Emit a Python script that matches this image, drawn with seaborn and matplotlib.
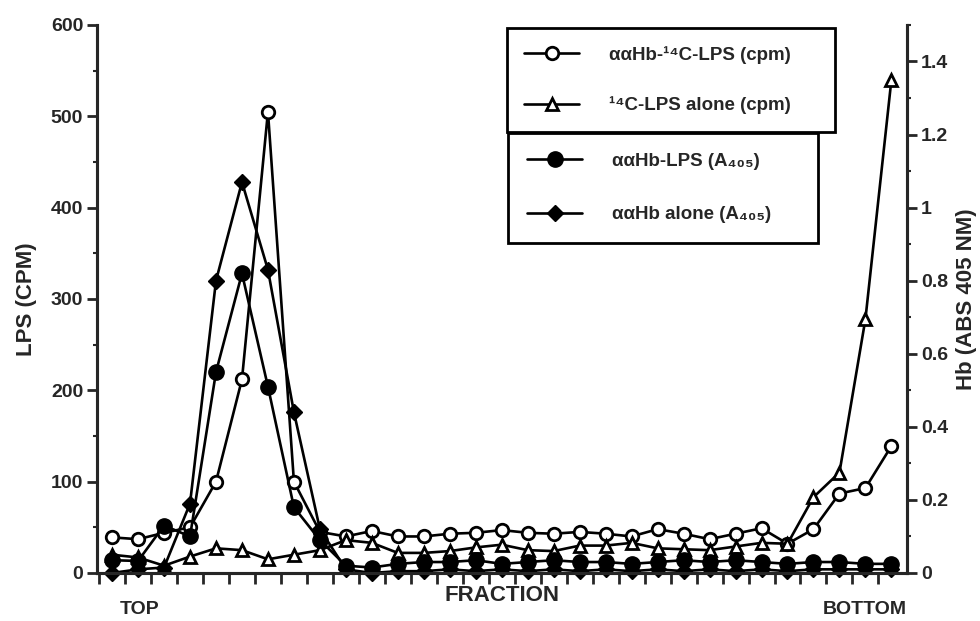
import numpy as np
import pandas as pd
import seaborn as sns
import matplotlib.pyplot as plt
from matplotlib.ticker import MultipleLocator, FuncFormatter

# fraction number, top of the gradient to bottom
fraction = np.arange(1, 32)

# cpm series (left axis)
hb_c14_lps_cpm = [39, 37, 44, 50, 100, 212, 505, 100, 45, 40, 46, 40, 40, 43, 44, 47,
                  44, 43, 45, 43, 40, 48, 43, 37, 43, 49, 32, 48, 87, 93, 139]
c14_lps_alone_cpm = [20, 17, 8, 18, 27, 25, 15, 20, 25, 36, 33, 22, 22, 24, 28, 31,
                     25, 24, 30, 30, 33, 27, 26, 25, 29, 33, 32, 83, 110, 278, 540]

# A405 series (right axis)
hb_lps_a405 = [0.035, 0.033, 0.13, 0.10, 0.55, 0.82, 0.51, 0.18, 0.09, 0.02, 0.015,
               0.025, 0.03, 0.03, 0.035, 0.025, 0.03, 0.035, 0.03, 0.03, 0.025, 0.03,
               0.035, 0.03, 0.035, 0.03, 0.025, 0.03, 0.03, 0.025, 0.025]
hb_alone_a405 = [0.0, 0.01, 0.015, 0.19, 0.80, 1.07, 0.83, 0.44, 0.12, 0.01, 0.0,
                 0.005, 0.005, 0.01, 0.005, 0.01, 0.005, 0.01, 0.005, 0.01, 0.005,
                 0.01, 0.005, 0.01, 0.005, 0.01, 0.005, 0.01, 0.01, 0.01, 0.01]

labels = ['\u03b1\u03b1Hb-\u00b9\u2074C-LPS (cpm)',
          '\u00b9\u2074C-LPS alone (cpm)',
          '\u03b1\u03b1Hb-LPS (A\u2084\u2080\u2085)',
          '\u03b1\u03b1Hb alone (A\u2084\u2080\u2085)']

df = pd.DataFrame({'fraction': fraction,
                   'cpm_complex': hb_c14_lps_cpm,
                   'cpm_alone': c14_lps_alone_cpm,
                   'a405_complex': hb_lps_a405,
                   'a405_alone': hb_alone_a405})

sns.set_style('ticks')
plt.rcParams['font.family'] = ['Liberation Sans', 'DejaVu Sans']
plt.rcParams['font.weight'] = 'bold'
plt.rcParams['axes.labelweight'] = 'bold'

fig = plt.figure(figsize=(9.8, 6.21), dpi=100)
ax = fig.add_axes([0.099, 0.0773, 0.8265, 0.8825])
ax2 = ax.twinx()

lw = 1.9
common = dict(color='black', linewidth=lw, markeredgecolor='black', clip_on=False)

sns.lineplot(data=df, x='fraction', y='cpm_complex', ax=ax, marker='o', markersize=9,
             markerfacecolor='white', markeredgewidth=2, legend=False, **common)
sns.lineplot(data=df, x='fraction', y='cpm_alone', ax=ax, marker='^', markersize=9,
             markerfacecolor='white', markeredgewidth=2, legend=False, **common)
sns.lineplot(data=df, x='fraction', y='a405_complex', ax=ax2, marker='o', markersize=11,
             markerfacecolor='black', markeredgewidth=1, legend=False, **common)
sns.lineplot(data=df, x='fraction', y='a405_alone', ax=ax2, marker='D', markersize=8,
             markerfacecolor='black', markeredgewidth=1, legend=False, **common)

ax.set_xlim(0.42, 31.6)
ax.set_ylim(0, 600)
ax2.set_ylim(0, 1.5)

# spines
for a in (ax, ax2):
    a.spines['top'].set_visible(False)
    for s in ('left', 'right', 'bottom'):
        a.spines[s].set_linewidth(2.2)

# x ticks: marks only, between fractions
ax.set_xticks(np.arange(0.5, 31, 1))
ax.set_xticklabels([])
ax.tick_params(axis='x', direction='out', length=8, width=2)
ax.set_xlabel('FRACTION', fontsize=16, labelpad=-3)

ax.yaxis.set_major_locator(MultipleLocator(100))
ax.yaxis.set_minor_locator(MultipleLocator(50))
ax.tick_params(axis='y', which='major', direction='out', length=7, width=2, labelsize=14, pad=3)
ax.tick_params(axis='y', which='minor', direction='out', length=3, width=1.5)
ax.set_ylabel('LPS (CPM)', fontsize=16, labelpad=10)

ax2.yaxis.set_major_locator(MultipleLocator(0.2))
ax2.yaxis.set_minor_locator(MultipleLocator(0.1))
ax2.yaxis.set_major_formatter(FuncFormatter(lambda v, p: '%g' % round(v, 2)))
ax2.tick_params(axis='y', which='major', direction='out', length=7, width=2, labelsize=14, pad=3)
ax2.tick_params(axis='y', which='minor', direction='out', length=3, width=1.5)
ax2.set_ylabel('Hb (ABS 405 NM)', fontsize=16, labelpad=6)

ax.text(0.053, -0.066, 'TOP', transform=ax.transAxes, fontsize=14, ha='center', va='center')
ax.text(0.948, -0.066, 'BOTTOM', transform=ax.transAxes, fontsize=14, ha='center', va='center')

# legends in two boxes
h1 = ax.lines[:2]
h2 = ax2.lines[:2]
leg_kw = dict(frameon=True, fancybox=False, edgecolor='black', framealpha=1,
              prop={'weight': 'bold', 'size': 13.5}, handlelength=2.9, handletextpad=1.6,
              borderaxespad=0, mode='expand', bbox_transform=fig.transFigure, loc='upper left')
leg1 = ax2.legend(h1, labels[:2], bbox_to_anchor=(0.517, 0.955, 0.335, 0.0),
                  labelspacing=1.75, borderpad=0.95, **leg_kw)
leg1.get_frame().set_linewidth(2)
ax2.add_artist(leg1)
leg2 = ax2.legend(h2, labels[2:], bbox_to_anchor=(0.518, 0.786, 0.317, 0.0),
                  labelspacing=1.95, borderpad=1.05, **leg_kw)
leg2.get_frame().set_linewidth(2)

plt.savefig('out.png', dpi=100)
plt.close()
